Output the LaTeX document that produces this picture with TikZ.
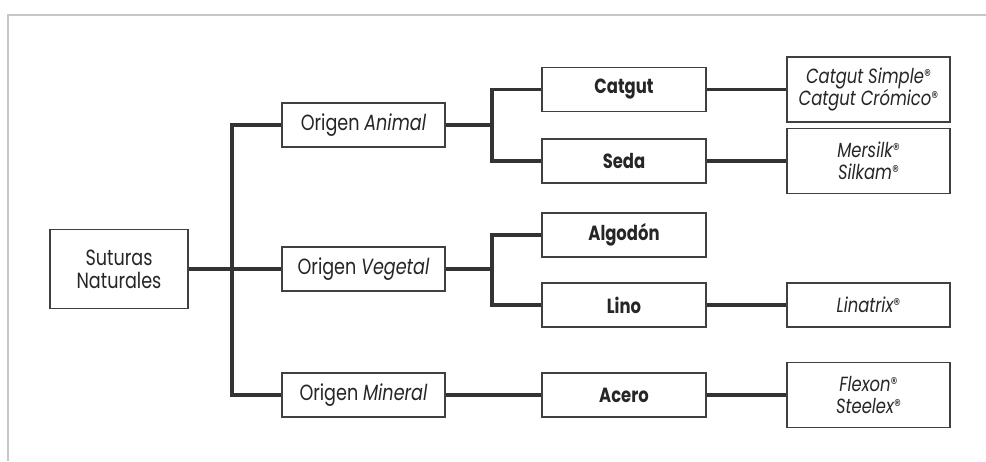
\documentclass[tikz,border=0pt]{standalone}
\usepackage{fontspec}
\setmainfont{Poppins}[FakeStretch=0.8]
\usetikzlibrary{positioning}
\newcommand{\regmark}{\raisebox{0.2ex}{\fontsize{17}{17}\selectfont\upshape ®}}

\begin{document}
\begin{tikzpicture}[x=1pt,y=-1pt,
	caja/.style={draw=black!75,line width=1.8pt,fill=white,align=center,minimum height=44pt,inner sep=0pt,text=black!85,font=\fontsize{22}{23}\selectfont},
	nivel/.style={caja,minimum width=164pt,font=\bfseries\fontsize{20.5}{22}\selectfont},
	marca/.style={caja,minimum width=163pt,font=\itshape\fontsize{20.5}{22}\selectfont},
	rama/.style={draw=black!80,line width=3.2pt},
	marco/.style={draw=black!22,line width=1.8pt}]
	\useasboundingbox (0,0) rectangle (986,461);
	\draw[marco] (986,15) -- (8,15) -- (8,461);
	\node[caja,minimum width=138pt,minimum height=79pt] (sut) at (119,269) {Suturas\\Naturales};
	\node[caja,minimum width=163pt] (oa) at (363.5,125) {Origen \textit{Animal}};
	\node[caja,minimum width=163pt] (ov) at (363.5,269) {Origen \textit{Vegetal}};
	\node[caja,minimum width=163pt] (om) at (363.5,395) {Origen \textit{Mineral}};
	\node[nivel] (cat) at (624,89.5) {Catgut};
	\node[nivel] (seda) at (624,161) {Seda};
	\node[nivel] (alg) at (624,235) {Algodón};
	\node[nivel] (lino) at (624,305) {Lino};
	\node[nivel] (ace) at (624,395) {Acero};
	\node[marca,minimum height=65pt] (cs) at (868.5,89.5) {Catgut Simple\regmark\\Catgut Crómico\regmark};
	\node[marca,minimum height=65pt] (mer) at (868.5,161) {Mersilk\regmark\\Silkam\regmark};
	\node[marca] (lin) at (868.5,305) {Linatrix\regmark};
	\node[marca,minimum height=65pt] (fle) at (868.5,395) {Flexon\regmark\\Steelex\regmark};
	\coordinate (j1) at (232,269);
	\coordinate (ja) at (492,125);
	\coordinate (jv) at (492,269);
	\draw[rama] (sut) -- (ov);
	\draw[rama] (oa.west) -| (j1) |- (om.west);
	\draw[rama] (oa) -- (ja);
	\draw[rama] (cat.west) -| (ja) |- (seda.west);
	\draw[rama] (ov) -- (jv);
	\draw[rama] (alg.west) -| (jv) |- (lino.west);
	\draw[rama] (om) -- (ace);
	\draw[rama] (cat) -- (cs);
	\draw[rama] (seda) -- (mer);
	\draw[rama] (lino) -- (lin);
	\draw[rama] (ace) -- (fle);
\end{tikzpicture}
\end{document}
